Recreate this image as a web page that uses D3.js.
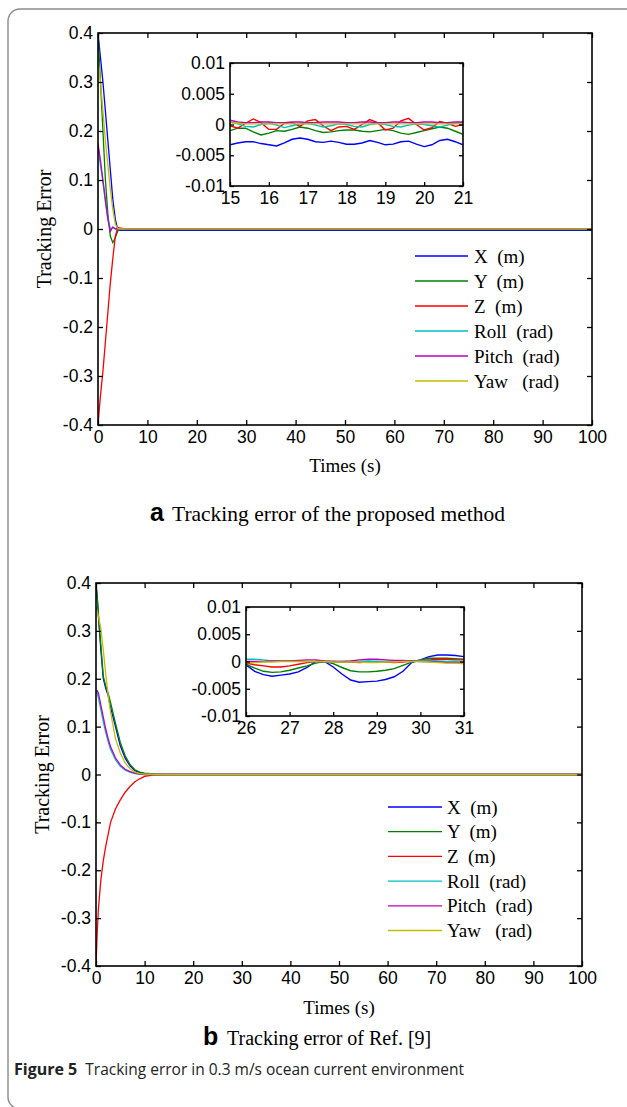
<!DOCTYPE html>
<html lang="en">
<head>
<meta charset="UTF-8">
<title>tracking-error</title>
<script src="https://cdn.jsdelivr.net/npm/d3@7"></script>
<style>
  body { margin: 0; background: #fff; }
  text { white-space: pre; }
</style>
</head>
<body>
<div id="container"></div>
<script>
// ---- data ----
const seriesNames = ["X  (m)", "Y  (m)", "Z  (m)", "Roll  (rad)", "Pitch  (rad)", "Yaw   (rad)"];
const seriesColors = ["#0000ff", "#008000", "#ff0000", "#00bfbf", "#bf00bf", "#bfbf00"];

const mainXTicks = [0, 10, 20, 30, 40, 50, 60, 70, 80, 90, 100];
const mainYTicks = [-0.4, -0.3, -0.2, -0.1, 0, 0.1, 0.2, 0.3, 0.4];
// inset values are stored in thousandths (x 1e-3)
const insetYTicks = [-10, -5, 0, 5, 10];
const insetYLabels = ["-0.01", "-0.005", "0", "0.005", "0.01"];

// (a) proposed method
const aTime  = [0, 0.5, 1, 1.5, 2, 2.5, 3, 3.5, 4, 4.5, 5, 6, 100];
const aX     = [0.4, 0.35, 0.3, 0.24, 0.18, 0.12, 0.06, 0.02, -0.002, -0.003, -0.003, -0.003, -0.003];
const aY     = [0.4, 0.3, 0.2, 0.1, 0.03, -0.015, -0.028, -0.018, -0.004, 0.001, -0.001, -0.001, -0.001];
const aZ     = [-0.4, -0.34, -0.29, -0.23, -0.17, -0.11, -0.06, -0.015, 0.003, 0.002, 0.001, 0, 0];
const aRoll  = [0.17, 0.13, 0.095, 0.055, 0.02, 0, 0.003, 0.001, 0, 0, 0, 0, 0];
const aPitch = [0.175, 0.14, 0.1, 0.06, 0.02, -0.005, 0.004, 0, 0.001, 0, 0, 0.0003, 0.0003];
const aYaw   = [0.35, 0.3, 0.24, 0.18, 0.13, 0.08, 0.04, 0.01, 0.001, 0, 0, 0.0001, 0.0001];

const aInsetTicks = [15, 16, 17, 18, 19, 20, 21];
const aInsetTime  = [15.0, 15.2, 15.4, 15.6, 15.8, 16.0, 16.2, 16.4, 16.6, 16.8, 17.0, 17.2, 17.4, 17.6, 17.8, 18.0,
                     18.2, 18.4, 18.6, 18.8, 19.0, 19.2, 19.4, 19.6, 19.8, 20.0, 20.2, 20.4, 20.6, 20.8, 21.0];
const aInsetX     = [-3.3, -3.0, -2.8, -2.8, -3.1, -3.3, -3.5, -3.0, -2.4, -2.2, -2.4, -2.8, -2.9, -2.7, -2.9, -3.2,
                     -3.2, -3.0, -2.6, -2.9, -3.3, -3.2, -2.8, -2.7, -3.2, -3.6, -3.3, -2.6, -2.4, -2.8, -3.3];
const aInsetY     = [-1.0, -0.6, -0.6, -1.2, -1.7, -1.4, -1.0, -1.1, -0.8, -0.4, -0.6, -1.0, -1.3, -1.2, -1.0, -0.9,
                     -0.9, -1.1, -1.2, -1.0, -0.8, -1.0, -1.4, -1.6, -1.3, -1.0, -0.7, -0.4, -0.6, -1.1, -1.6];
const aInsetZ     = [-0.2, -0.6, 0.2, 0.9, 0.3, -0.8, -0.8, 0.2, 0.3, -0.3, 0.6, 0.8, -0.2, -1.0, -0.4, -0.3,
                     -0.8, 0.0, 0.8, 0.3, -0.9, -0.6, 0.6, 1.0, 0.0, -0.9, -0.5, 0.5, 0.2, -0.3, 0.0];
const aInsetRoll  = [0.4, 0.1, -0.3, -0.4, 0.0, 0.2, -0.1, -0.5, -0.2, 0.1, 0.2, -0.1, -0.4, -0.2, 0.1, 0.0,
                     -0.3, -0.4, 0.0, 0.2, 0.0, -0.3, -0.4, -0.1, 0.1, 0.0, -0.2, -0.4, -0.1, 0.2, 0.3];
const aInsetPitch = [0.7, 0.4, 0.3, 0.3, 0.4, 0.4, 0.3, 0.3, 0.4, 0.4, 0.3, 0.3, 0.4, 0.4, 0.4, 0.3,
                     0.3, 0.4, 0.4, 0.3, 0.3, 0.4, 0.4, 0.3, 0.3, 0.4, 0.4, 0.3, 0.3, 0.4, 0.4];
const aInsetYaw   = [0.3, 0.2, 0.1, 0.1, 0.1, 0.1, 0.1, 0.1, 0.1, 0.1, 0.1, 0.1, 0.1, 0.1, 0.1, 0.1,
                     0.1, 0.1, 0.1, 0.1, 0.1, 0.1, 0.1, 0.1, 0.1, 0.1, 0.1, 0.1, 0.1, 0.1, 0.1];

// (b) Ref. [9]
const bTime  = [0, 0.25, 0.5, 1, 1.5, 2, 2.5, 3, 4, 5, 6, 7, 8, 9, 10, 12, 15, 100];
const bX     = [0.4, 0.37, 0.33, 0.26, 0.2, 0.18, 0.165, 0.14, 0.1, 0.06, 0.034, 0.018, 0.008, 0.004, 0.002, 0, 0, 0];
const bY     = [0.4, 0.37, 0.335, 0.27, 0.205, 0.185, 0.17, 0.15, 0.107, 0.067, 0.039, 0.021, 0.01, 0.005, 0.003, 0.001, 0, 0];
const bZ     = [-0.4, -0.33, -0.28, -0.22, -0.18, -0.15, -0.125, -0.1, -0.072, -0.053, -0.037, -0.025, -0.015, -0.009, -0.004, -0.001, 0, 0];
const bRoll  = [0.175, 0.17, 0.16, 0.135, 0.11, 0.088, 0.068, 0.052, 0.031, 0.017, 0.009, 0.005, 0.002, 0.001, 0, 0, 0, 0];
const bPitch = [0.175, 0.175, 0.17, 0.145, 0.12, 0.095, 0.075, 0.058, 0.035, 0.02, 0.011, 0.006, 0.003, 0.001, 0, 0, 0, 0];
const bYaw   = [0.35, 0.34, 0.33, 0.305, 0.26, 0.21, 0.165, 0.13, 0.075, 0.045, 0.024, 0.012, 0.005, 0.002, 0.001, 0, 0, 0];

const bInsetTicks = [26, 27, 28, 29, 30, 31];
const bInsetTime  = [26.0, 26.2, 26.4, 26.6, 26.8, 27.0, 27.2, 27.4, 27.6, 27.8, 28.0, 28.2, 28.4,
                     28.6, 28.8, 29.0, 29.2, 29.4, 29.6, 29.8, 30.0, 30.2, 30.4, 30.6, 30.8, 31.0];
const bInsetX     = [-0.6, -1.8, -2.4, -2.7, -2.5, -2.3, -1.9, -1.1, 0.0, 0.0, -1.0, -2.3, -3.4,
                     -3.8, -3.7, -3.6, -3.3, -2.8, -1.8, -0.2, 0.3, 0.9, 1.2, 1.2, 1.1, 0.9];
const bInsetY     = [-0.5, -1.2, -1.8, -2.0, -1.9, -1.6, -1.2, -0.8, -0.3, 0.0, -0.4, -1.1, -1.7,
                     -1.9, -1.9, -1.8, -1.6, -1.3, -0.7, -0.1, 0.3, 0.6, 0.6, 0.6, 0.5, 0.4];
const bInsetZ     = [-0.3, -0.6, -0.8, -1.0, -1.0, -0.8, -0.5, -0.2, 0.0, 0.0, 0.0, -0.1, -0.1,
                     -0.2, -0.1, 0.0, -0.1, -0.2, -0.1, 0.1, 0.2, 0.3, 0.4, 0.4, 0.3, 0.3];
const bInsetRoll  = [0.4, 0.4, 0.3, 0.1, 0.1, 0.1, 0.1, 0.0, 0.0, 0.0, 0.0, 0.0, 0.0,
                     0.0, 0.1, 0.0, 0.0, 0.1, 0.1, 0.1, 0.2, 0.2, 0.1, 0.0, 0.0, -0.1];
const bInsetPitch = [0.0, 0.0, 0.0, 0.1, 0.1, 0.1, 0.2, 0.3, 0.3, 0.1, 0.0, 0.0, 0.1,
                     0.3, 0.4, 0.4, 0.3, 0.2, 0.2, 0.1, 0.0, 0.0, -0.1, -0.2, -0.2, -0.3];
const bInsetYaw   = [-0.2, -0.2, -0.1, -0.1, 0.0, 0.0, 0.0, 0.0, 0.0, 0.0, -0.1, -0.1, -0.1,
                     -0.1, -0.2, -0.2, -0.1, -0.1, 0.0, 0.0, 0.0, -0.1, -0.2, -0.3, -0.3, -0.4];

// ---- drawing ----
const width = 627, height = 1107;
const sansFont = "'Liberation Sans', Arial, sans-serif";
const serifFont = "'Liberation Serif', 'Times New Roman', serif";

const svg = d3.select("#container").append("svg")
    .attr("width", width)
    .attr("height", height);

// 外框
svg.append("rect")
    .attr("x", 8).attr("y", 9)
    .attr("width", 640).attr("height", 1100)
    .attr("rx", 12)
    .attr("fill", "none")
    .attr("stroke", "#8c8c8c")
    .attr("stroke-width", 1.4);

function boxAxes(g, x, y, xTicks, yTicks, yFormat, box, tick) {
    const fmtX = d => String(d);
    g.append("g")
        .attr("transform", `translate(0,${box.bottom})`)
        .call(d3.axisBottom(x).tickValues(xTicks).tickSize(-tick).tickPadding(6).tickFormat(fmtX));
    g.append("g")
        .attr("transform", `translate(0,${box.top})`)
        .call(d3.axisTop(x).tickValues(xTicks).tickSize(-tick).tickFormat(""));
    g.append("g")
        .attr("transform", `translate(${box.left},0)`)
        .call(d3.axisLeft(y).tickValues(yTicks).tickSize(-tick).tickPadding(5).tickFormat(yFormat));
    g.append("g")
        .attr("transform", `translate(${box.right},0)`)
        .call(d3.axisRight(y).tickValues(yTicks).tickSize(-tick).tickFormat(""));
    g.selectAll(".domain").remove();
    g.selectAll(".tick line").attr("stroke", "#000").attr("stroke-width", 1.3);
    g.selectAll(".tick text")
        .attr("font-family", sansFont)
        .attr("font-size", "17.5px")
        .attr("fill", "#000");
    g.append("rect")
        .attr("x", box.left).attr("y", box.top)
        .attr("width", box.right - box.left).attr("height", box.bottom - box.top)
        .attr("fill", "none")
        .attr("stroke", "#000")
        .attr("stroke-width", 1.6);
}

function drawPanel(p) {
    const g = svg.append("g");
    const box = p.box;
    const x = d3.scaleLinear().domain([0, 100]).range([box.left, box.right]);
    const y = d3.scaleLinear().domain([-0.4, 0.4]).range([box.bottom, box.top]);

    svg.append("clipPath").attr("id", "clip-" + p.id)
        .append("rect")
        .attr("x", box.left).attr("y", box.top)
        .attr("width", box.right - box.left).attr("height", box.bottom - box.top);

    const plot = g.append("g").attr("clip-path", `url(#clip-${p.id})`);
    p.series.forEach((s, k) => {
        const line = d3.line().x((d, i) => x(p.time[i])).y(d => y(d));
        plot.append("path")
            .datum(s)
            .attr("d", line)
            .attr("fill", "none")
            .attr("stroke", seriesColors[k])
            .attr("stroke-width", 1.3);
    });

    boxAxes(g, x, y, mainXTicks, mainYTicks, d => String(d), box, 5);

    // 轴标题
    g.append("text")
        .attr("x", (box.left + box.right) / 2)
        .attr("y", p.xLabelY)
        .attr("text-anchor", "middle")
        .attr("font-family", serifFont)
        .attr("font-size", "19px")
        .text("Times (s)");
    g.append("text")
        .attr("transform", `translate(${p.yLabelX},${(box.top + box.bottom) / 2}) rotate(-90)`)
        .attr("text-anchor", "middle")
        .attr("font-family", serifFont)
        .attr("font-size", "20px")
        .text("Tracking Error");

    // inset
    const ib = p.inset;
    const ix = d3.scaleLinear().domain(d3.extent(p.insetTicks)).range([ib.left, ib.right]);
    const iy = d3.scaleLinear().domain([-10, 10]).range([ib.bottom, ib.top]);
    const ig = g.append("g");
    ig.append("rect")
        .attr("x", ib.left).attr("y", ib.top)
        .attr("width", ib.right - ib.left).attr("height", ib.bottom - ib.top)
        .attr("fill", "#fff");
    svg.append("clipPath").attr("id", "iclip-" + p.id)
        .append("rect")
        .attr("x", ib.left).attr("y", ib.top)
        .attr("width", ib.right - ib.left).attr("height", ib.bottom - ib.top);
    const iplot = ig.append("g").attr("clip-path", `url(#iclip-${p.id})`);
    p.insetSeries.forEach((s, k) => {
        const line = d3.line().x((d, i) => ix(p.insetTime[i])).y(d => iy(d));
        iplot.append("path")
            .datum(s)
            .attr("d", line)
            .attr("fill", "none")
            .attr("stroke", seriesColors[k])
            .attr("stroke-width", 1.4);
    });
    boxAxes(ig, ix, iy, p.insetTicks, insetYTicks, (d, i) => insetYLabels[i], ib, 4);

    // legend
    const lg = g.append("g");
    seriesNames.forEach((name, k) => {
        const ly = p.legend.y + k * p.legend.step;
        lg.append("line")
            .attr("x1", p.legend.x1).attr("x2", p.legend.x2)
            .attr("y1", ly).attr("y2", ly)
            .attr("stroke", seriesColors[k])
            .attr("stroke-width", 1.3);
        lg.append("text")
            .attr("x", p.legend.tx)
            .attr("y", ly)
            .attr("dy", "0.35em")
            .attr("font-family", serifFont)
            .attr("font-size", "19px")
            .text(name);
    });

    // caption
    g.append("text")
        .attr("x", p.caption.x)
        .attr("y", p.caption.y)
        .attr("font-family", sansFont)
        .attr("font-weight", "bold")
        .attr("font-size", "25px")
        .text(p.caption.letter);
    g.append("text")
        .attr("x", p.caption.tx)
        .attr("y", p.caption.y)
        .attr("font-family", serifFont)
        .attr("font-size", p.caption.size)
        .text(p.caption.text);
}

drawPanel({
    id: "a",
    box: {left: 98, right: 592, top: 33, bottom: 425},
    time: aTime,
    series: [aX, aY, aZ, aRoll, aPitch, aYaw],
    inset: {left: 230, right: 463, top: 63, bottom: 186},
    insetTicks: aInsetTicks,
    insetTime: aInsetTime,
    insetSeries: [aInsetX, aInsetY, aInsetZ, aInsetRoll, aInsetPitch, aInsetYaw],
    legend: {x1: 415, x2: 468, tx: 474, y: 256, step: 25},
    xLabelY: 472,
    yLabelX: 51,
    caption: {x: 150, tx: 172, y: 521, size: "21.5px", letter: "a", text: "Tracking error of the proposed method"}
});

drawPanel({
    id: "b",
    box: {left: 96, right: 582, top: 583, bottom: 966},
    time: bTime,
    series: [bX, bY, bZ, bRoll, bPitch, bYaw],
    inset: {left: 246, right: 464, top: 607, bottom: 716},
    insetTicks: bInsetTicks,
    insetTime: bInsetTime,
    insetSeries: [bInsetX, bInsetY, bInsetZ, bInsetRoll, bInsetPitch, bInsetYaw],
    legend: {x1: 388, x2: 442, tx: 447, y: 807, step: 24.7},
    xLabelY: 1014,
    yLabelX: 49,
    caption: {x: 203, tx: 227, y: 1045, size: "20px", letter: "b", text: "Tracking error of Ref. [9]"}
});

// figure caption
const fc = svg.append("text")
    .attr("x", 14)
    .attr("y", 1075)
    .attr("font-family", "'Open Sans', 'Noto Sans', sans-serif")
    .attr("font-size", "15.5px")
    .attr("fill", "#222");
fc.append("tspan").attr("font-weight", "bold").attr("font-size", "16px").text("Figure 5");
fc.append("tspan").text("  Tracking error in 0.3 m/s ocean current environment");
</script>
</body>
</html>
